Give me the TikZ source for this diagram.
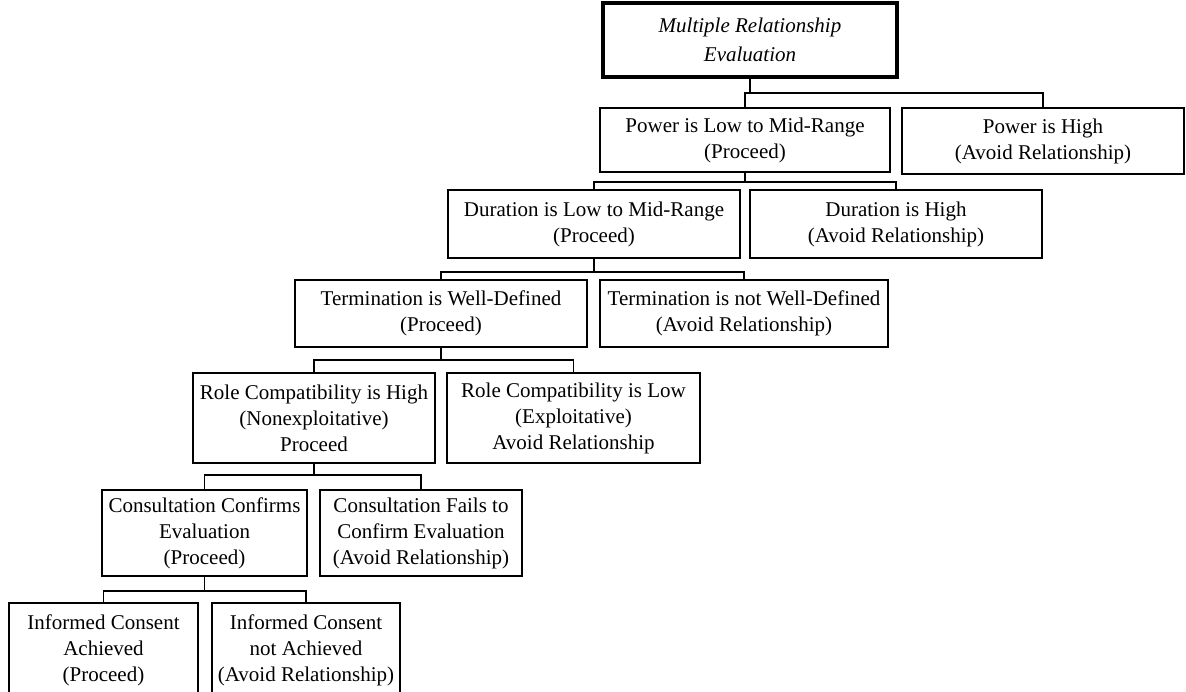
\documentclass[tikz,border=0pt]{standalone}
\usepackage{fontspec}
\setmainfont{Liberation Serif}
\begin{document}
\begin{tikzpicture}[x=1pt,y=-1pt,
  box/.style={draw=black,line width=1.1pt,align=center,inner sep=0pt,
    font=\fontsize{21pt}{26pt}\selectfont},
  titlebox/.style={box,line width=3.5pt,font=\fontsize{21pt}{29pt}\selectfont\itshape},
  conn/.style={draw=black,line width=1.1pt}]
\useasboundingbox (0,0) rectangle (1186,692);
\node[titlebox,minimum width=294pt,minimum height=74pt] (title) at (750,40) {Multiple Relationship\\Evaluation};
\node[box,minimum width=290pt,minimum height=64pt] (pl) at (745,140) {Power is Low to Mid-Range\\(Proceed)};
\node[box,minimum width=282pt,minimum height=66pt] (ph) at (1043,141) {Power is High\\(Avoid Relationship)};
\node[box,minimum width=292pt,minimum height=68pt] (dl) at (594,224) {Duration is Low to Mid-Range\\(Proceed)};
\node[box,minimum width=292pt,minimum height=68pt] (dh) at (896,224) {Duration is High\\(Avoid Relationship)};
\node[box,minimum width=292pt,minimum height=67pt] (tw) at (441,313.5) {Termination is Well-Defined\\(Proceed)};
\node[box,minimum width=288pt,minimum height=67pt] (tn) at (744,313.5) {Termination is not Well-Defined\\(Avoid Relationship)};
\node[box,minimum width=242pt,minimum height=90pt] (rh) at (314,418) {Role Compatibility is High\\(Nonexploitative)\\Proceed};
\node[box,minimum width=253pt,minimum height=90pt] (rl) at (573.5,418) {Role Compatibility is Low\\(Exploitative)\\Avoid Relationship};
\node[box,minimum width=205pt,minimum height=86pt] (cc) at (204.5,533) {Consultation Confirms\\Evaluation\\(Proceed)};
\node[box,minimum width=202pt,minimum height=86pt] (cf) at (421,533) {Consultation Fails to\\Confirm Evaluation\\(Avoid Relationship)};
\node[box,minimum width=189pt,minimum height=91pt,text depth=0pt] (ia) at (103.5,648.5) {Informed Consent\\Achieved\\(Proceed)};
\node[box,minimum width=188pt,minimum height=91pt,text depth=0pt] (in) at (306,648.5) {Informed Consent\\not Achieved\\(Avoid Relationship)};
\coordinate (j1) at (750,93);
\coordinate (j2) at (745,182);
\coordinate (j3) at (594,272);
\coordinate (j4) at (441,360);
\coordinate (j5) at (314,475);
\coordinate (j6) at (204.5,591);
\draw[conn] (title.south) -- (title.south |- j1);
\draw[conn] (pl.north) |- (j1) -| (ph.north);
\draw[conn] (pl.south) -- (pl.south |- j2);
\draw[conn] (dl.north) |- (j2) -| (dh.north);
\draw[conn] (dl.south) -- (dl.south |- j3);
\draw[conn] (tw.north) |- (j3) -| (tn.north);
\draw[conn] (tw.south) -- (tw.south |- j4);
\draw[conn] (rh.north) |- (j4) -| (rl.north);
\draw[conn] (rh.south) -- (rh.south |- j5);
\draw[conn] (cc.north) |- (j5) -| (cf.north);
\draw[conn] (cc.south) -- (cc.south |- j6);
\draw[conn] (ia.north) |- (j6) -| (in.north);
\end{tikzpicture}
\end{document}
